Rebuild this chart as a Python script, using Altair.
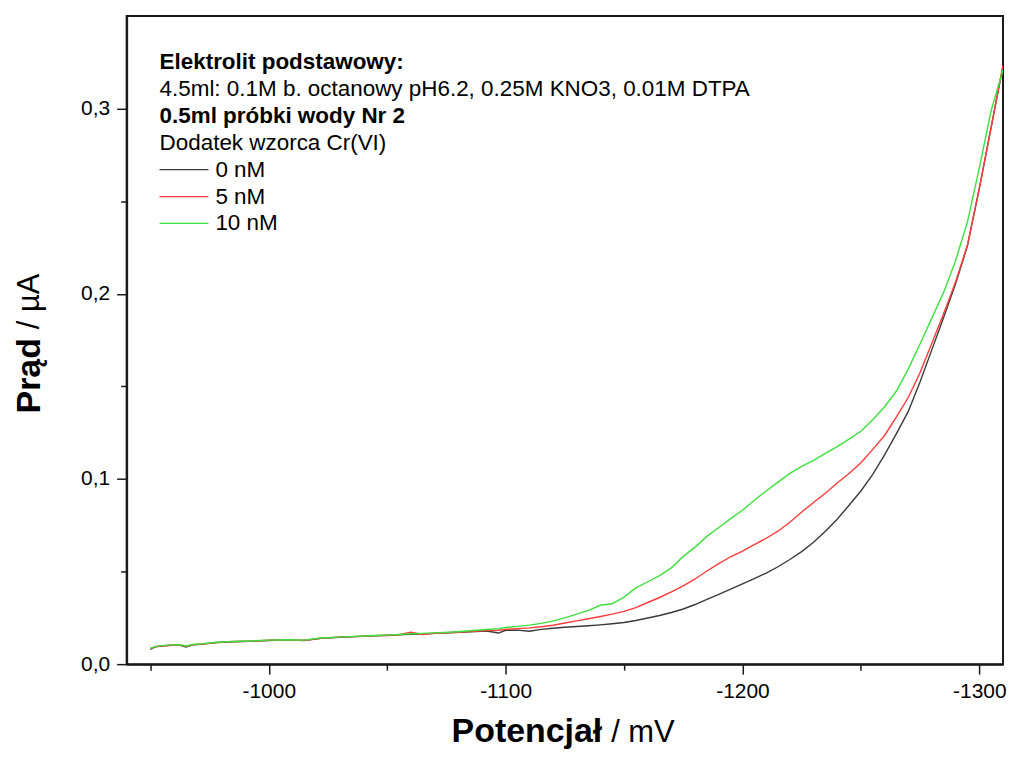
import altair as alt
import pandas as pd

# ---------------- data ----------------
potential = [-950, -952, -955, -958, -962, -965, -968, -972, -978, -985, -992, -1000,
             -1008, -1015, -1022, -1030, -1038, -1045, -1050, -1055, -1060, -1065, -1070,
             -1078, -1085, -1092, -1097, -1100,
             -1105, -1110, -1115, -1120, -1125, -1130, -1135, -1140, -1145, -1150,
             -1155, -1160, -1165, -1170, -1175, -1180, -1185, -1190, -1195, -1200,
             -1205, -1210, -1215, -1220, -1225, -1230, -1235, -1240, -1245, -1250,
             -1255, -1260, -1265, -1270, -1275, -1280, -1285, -1290, -1295, -1300,
             -1305, -1310]

current_0nM = [0.0080, 0.0093, 0.0098, 0.0102, 0.0104, 0.0093, 0.0104, 0.0108, 0.0117, 0.0121, 0.0124, 0.0128,
               0.0131, 0.0127, 0.0140, 0.0145, 0.0150, 0.0153, 0.0156, 0.0158, 0.0161, 0.0163, 0.0166,
               0.0171, 0.0175, 0.0179, 0.0168, 0.0183,
               0.0184, 0.0178, 0.0188, 0.0194, 0.0199, 0.0203, 0.0207, 0.0212, 0.0218, 0.0225,
               0.0236, 0.0249, 0.0263, 0.0279, 0.0298, 0.0322, 0.0350, 0.0377, 0.0405, 0.0434,
               0.0462, 0.0492, 0.0526, 0.0565, 0.0608, 0.0658, 0.0718, 0.0783, 0.0858, 0.0935,
               0.1025, 0.1130, 0.1245, 0.1365, 0.1525, 0.1700, 0.1875, 0.2055, 0.2260, 0.2570,
               0.2900, 0.3230]

current_5nM = [0.0082, 0.0094, 0.0099, 0.0101, 0.0105, 0.0097, 0.0105, 0.0109, 0.0116, 0.0122, 0.0123, 0.0129,
               0.0130, 0.0129, 0.0139, 0.0146, 0.0149, 0.0154, 0.0155, 0.0159, 0.0172, 0.0160, 0.0167,
               0.0171, 0.0176, 0.0181, 0.0183, 0.0188,
               0.0192, 0.0196, 0.0202, 0.0210, 0.0222, 0.0234, 0.0245, 0.0257, 0.0270, 0.0285,
               0.0305, 0.0333, 0.0360, 0.0390, 0.0423, 0.0460, 0.0503, 0.0543, 0.0580, 0.0611,
               0.0645, 0.0680, 0.0718, 0.0766, 0.0822, 0.0873, 0.0923, 0.0978, 0.1030, 0.1088,
               0.1160, 0.1235, 0.1335, 0.1440, 0.1575, 0.1735, 0.1895, 0.2065, 0.2265, 0.2570,
               0.2900, 0.3235]

current_10nM = [0.0085, 0.0095, 0.0100, 0.0103, 0.0106, 0.0098, 0.0106, 0.0110, 0.0118, 0.0122, 0.0125, 0.0130,
                0.0132, 0.0130, 0.0141, 0.0146, 0.0151, 0.0155, 0.0157, 0.0160, 0.0164, 0.0166, 0.0169,
                0.0174, 0.0180, 0.0187, 0.0192, 0.0198,
                0.0204, 0.0211, 0.0220, 0.0232, 0.0250, 0.0270, 0.0290, 0.0318, 0.0326, 0.0362,
                0.0412, 0.0445, 0.0478, 0.0520, 0.0582, 0.0632, 0.0690, 0.0738, 0.0786, 0.0831,
                0.0885, 0.0935, 0.0983, 0.1030, 0.1068, 0.1100, 0.1138, 0.1175, 0.1215, 0.1258,
                0.1320, 0.1390, 0.1475, 0.1595, 0.1730, 0.1870, 0.2010, 0.2180, 0.2390, 0.2680,
                0.2990, 0.3210]

series_labels = ["0 nM", "5 nM", "10 nM"]
series_colors = ["#3a3a3a", "#ff3b3b", "#3ee03e"]

header_lines = ["Elektrolit podstawowy:",
                "4.5ml: 0.1M b. octanowy pH6.2, 0.25M KNO3, 0.01M DTPA",
                "0.5ml próbki wody Nr 2",
                "Dodatek wzorca Cr(VI)"]
header_bold = [True, False, True, False]

x_ticks = [-950, -1000, -1050, -1100, -1150, -1200, -1250, -1300]
y_ticks = [0.0, 0.05, 0.1, 0.15, 0.2, 0.25, 0.3]

x_title_bold, x_title_rest = "Potencjał", "/ mV"
y_title_bold, y_title_rest = "Prąd", "/ µA"

FONT = "Liberation Sans"

# ---------------- build ----------------
rows = []
for label, vals in zip(series_labels, [current_0nM, current_5nM, current_10nM]):
    for p, v in zip(potential, vals):
        rows.append({"potential": p, "current": v, "series": label})
df = pd.DataFrame(rows)

x_scale = alt.Scale(domain=[-1310, -940], reverse=True, nice=False, zero=False)
y_scale = alt.Scale(domain=[0, 0.35], nice=False, zero=False)

x_axis = alt.Axis(
    values=x_ticks, title=None, grid=False,
    labelExpr="datum.value % 100 == 0 ? '' + datum.value : ''",
    tickSize={"condition": {"test": "datum.value % 100 == 0", "value": 10}, "value": 6},
    labelPadding=6, labelOverlap=False, labelFlush=False,
)
y_axis = alt.Axis(
    values=y_ticks, title=None, grid=False,
    labelExpr="abs(datum.value * 10 - round(datum.value * 10)) < 0.001 ? replace(format(datum.value, '.1f'), '.', ',') : ''",
    tickSize={"condition": {"test": "abs(datum.value * 10 - round(datum.value * 10)) < 0.001", "value": 10}, "value": 6},
    labelPadding=7, labelOverlap=False, labelFlush=False,
)

layers = []
for label, color in zip(series_labels, series_colors):
    layers.append(
        alt.Chart(df).transform_filter(alt.datum.series == label)
        .mark_line(color=color, strokeWidth=1.4, clip=True)
        .encode(
            x=alt.X("potential:Q", scale=x_scale, axis=x_axis),
            y=alt.Y("current:Q", scale=y_scale, axis=y_axis),
            order=alt.Order("potential:Q", sort="descending"),
        )
    )

# legend block (text + sample lines)
LEG_X, LEG_Y0, LEG_DY = 33, 46, 27
LEG_FS = 22.5
for i, (line, bold) in enumerate(zip(header_lines, header_bold)):
    layers.append(
        alt.Chart(pd.DataFrame({"t": [line]})).mark_text(
            align="left", baseline="middle", font=FONT, fontSize=LEG_FS,
            fontWeight="bold" if bold else "normal", color="black")
        .encode(text="t:N", x=alt.value(LEG_X), y=alt.value(LEG_Y0 + i * LEG_DY))
    )
for j, (label, color) in enumerate(zip(series_labels, series_colors)):
    yy = LEG_Y0 + (len(header_lines) + j) * LEG_DY
    one = pd.DataFrame({"t": [label]})
    layers.append(
        alt.Chart(one).mark_rule(color=color, strokeWidth=1.3)
        .encode(x=alt.value(LEG_X), x2=alt.value(LEG_X + 49), y=alt.value(yy))
    )
    layers.append(
        alt.Chart(one).mark_text(align="left", baseline="middle", font=FONT, fontSize=LEG_FS, color="black")
        .encode(text="t:N", x=alt.value(LEG_X + 56), y=alt.value(yy))
    )

# axis titles with mixed weights
XT_X, XT_Y = 477, 728
layers.append(
    alt.Chart(pd.DataFrame({"t": [x_title_bold]})).mark_text(
        align="right", baseline="alphabetic", font=FONT, fontSize=34, fontWeight="bold", color="black")
    .encode(text="t:N", x=alt.value(XT_X), y=alt.value(XT_Y))
)
layers.append(
    alt.Chart(pd.DataFrame({"t": [x_title_rest]})).mark_text(
        align="left", baseline="alphabetic", font=FONT, fontSize=31, color="black")
    .encode(text="t:N", x=alt.value(XT_X + 9), y=alt.value(XT_Y))
)
YT_X, YT_Y = -97, 323
layers.append(
    alt.Chart(pd.DataFrame({"t": [y_title_bold]})).mark_text(
        align="right", baseline="middle", angle=270, font=FONT, fontSize=34, fontWeight="bold", color="black")
    .encode(text="t:N", x=alt.value(YT_X), y=alt.value(YT_Y))
)
layers.append(
    alt.Chart(pd.DataFrame({"t": [y_title_rest]})).mark_text(
        align="left", baseline="middle", angle=270, font=FONT, fontSize=31, color="black")
    .encode(text="t:N", x=alt.value(YT_X), y=alt.value(YT_Y - 9))
)

chart = alt.layer(*layers).properties(
    width=879, height=650,
    autosize=alt.AutoSizeParams(type="none"),
    padding={"left": 119, "top": 7, "right": 6, "bottom": 86},
    background="white",
).configure_view(
    stroke="#1a1a1a", strokeWidth=2
).configure_axis(
    labelFont=FONT, labelFontSize=21, labelColor="black",
    tickColor="#1a1a1a", tickWidth=1.5, domainColor="#1a1a1a", domainWidth=2,
)

chart.save("out.html", embed_options={"renderer": "svg", "actions": False})
